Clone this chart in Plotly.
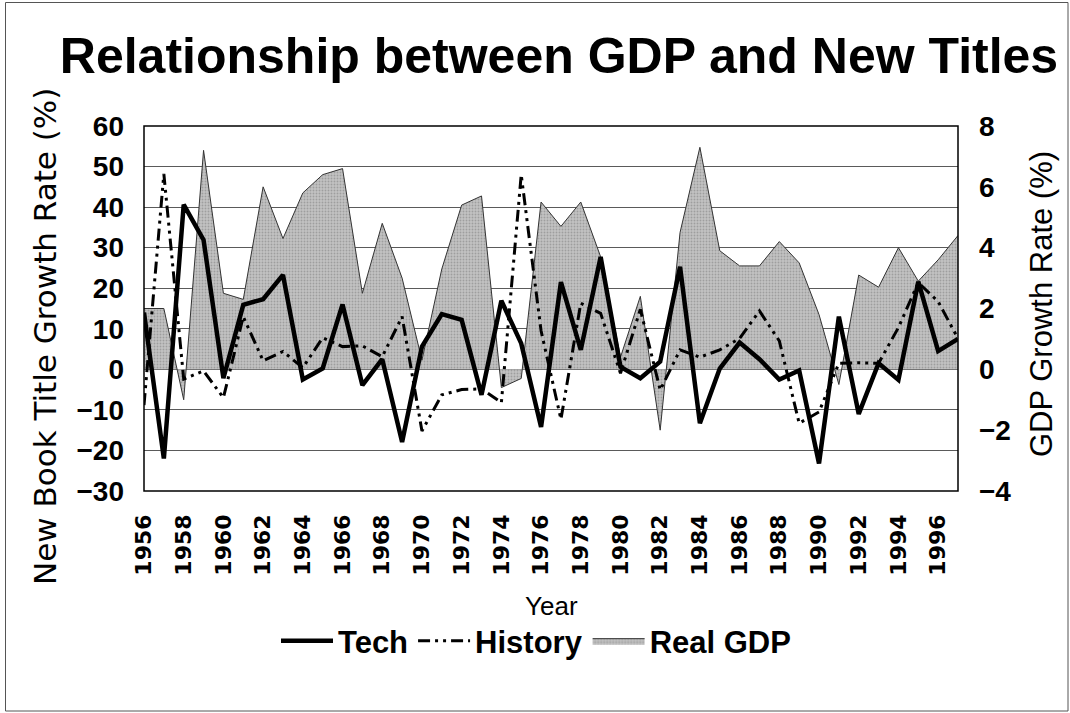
import plotly.graph_objects as go

years = list(range(1956, 1998))
tech = [14.0, -22.0, 40.6, 31.9, -2.2, 15.9, 17.3, 23.3, -2.5, 0.2,
        16.0, -3.9, 2.5, -17.9, 5.6, 13.6, 12.2, -6.3, 16.9, 6.4,
        -14.2, 21.5, 4.8, 27.7, 0.6, -2.2, 1.9, 25.3, -13.3, 0.2,
        6.6, 2.5, -2.5, -0.3, -23.2, 13.0, -11.0, 1.5, -2.6, 21.6,
        4.5, 7.5]
history = [-8.8, 48.2, -2.4, -0.4, -7.0, 13.0, 2.1, 4.4, 0.4, 7.8,
           5.6, 5.8, 3.1, 13.0, -15.2, -6.3, -5.0, -4.8, -8.2, 48.0,
           9.5, -12.3, 16.3, 13.8, -1.0, 14.8, -5.1, 4.8, 3.0, 4.8,
           7.6, 14.4, 7.0, -13.3, -10.5, 1.5, 1.6, 1.5, 10.3, 21.4,
           16.7, 7.6]
gdp = [2.0, 2.0, -1.0, 7.2, 2.5, 2.3, 6.0, 4.3, 5.8, 6.4,
       6.6, 2.5, 4.8, 3.0, 0.3, 3.3, 5.4, 5.7, -0.6, -0.3,
       5.5, 4.7, 5.5, 3.7, 0.4, 2.4, -2.0, 4.5, 7.3, 3.9,
       3.4, 3.4, 4.2, 3.5, 1.8, -0.5, 3.1, 2.7, 4.0, 2.9,
       3.6, 4.4]
tick_years = list(range(1956, 1997, 2))
tick_labels = [str(y) for y in tick_years]
left_ticks = list(range(-30, 61, 10))
right_ticks = list(range(-4, 9, 2))

W, H = 1070, 713
ML, MR, MT, MB = 144, 112, 126, 222
PW = W - ML - MR
PH = H - MT - MB


def px(x):
    return (x - ML) / PW


def py(y):
    return (H - MB - y) / PH


fig = go.Figure()
fig.add_trace(go.Scatter(
    x=years, y=gdp, name="Real GDP", yaxis="y", mode="lines", fill="tozeroy",
    line=dict(color="#333333", width=1),
    fillcolor="#b8b8b8",
    fillpattern=dict(shape=".", size=3, solidity=0.3,
                     fgcolor="#7a7a7a", bgcolor="#c2c2c2"),
    legendrank=3))
fig.add_trace(go.Scatter(
    x=years, y=history, name="History", yaxis="y2", mode="lines",
    line=dict(color="black", width=3, dash="12px,5px,3px,5px,3px,5px"),
    legendrank=2))
fig.add_trace(go.Scatter(
    x=years, y=tech, name="Tech", yaxis="y2", mode="lines",
    line=dict(color="black", width=4.5),
    legendrank=1))

fig.update_layout(
    width=W, height=H,
    margin=dict(l=ML, r=MR, t=MT, b=MB, pad=0),
    paper_bgcolor="white", plot_bgcolor="white",
    font=dict(family="Liberation Sans, Arial, sans-serif", color="black"),
    title=dict(text="<b>Relationship between GDP and New Titles</b>",
               font=dict(family="Liberation Sans, Arial", size=50, color="black"),
               x=559 / W, xanchor="center", xref="container",
               y=1 - 55 / H, yanchor="middle", yref="container"),
    xaxis=dict(range=[1956, 1997], tickmode="array", tickvals=tick_years,
               ticktext=tick_labels, tickangle=-90, ticks="",
               ticklabelstandoff=18, showgrid=False, zeroline=False,
               tickfont=dict(family="DejaVu Sans", size=22, weight="bold")),
    yaxis=dict(range=[-4, 8], side="right", tickmode="array",
               tickvals=right_ticks, ticks="", ticklabelstandoff=20,
               showgrid=False, zeroline=False,
               tickfont=dict(family="Liberation Sans", size=28, weight="bold")),
    yaxis2=dict(range=[-30, 60], side="left", overlaying="y", tickmode="array",
                tickvals=left_ticks, ticks="", ticklabelstandoff=19,
                showgrid=True, gridcolor="#5a5a5a", gridwidth=1, zeroline=False,
                tickfont=dict(family="Liberation Sans", size=28, weight="bold")),
    legend=dict(orientation="h", x=px(536), xanchor="center",
                y=py(641), yanchor="middle",
                font=dict(family="Liberation Sans", size=31, weight="bold"),
                itemwidth=52, bgcolor="rgba(0,0,0,0)"),
    shapes=[
        dict(type="rect", xref="paper", yref="paper", x0=0, x1=1, y0=0, y1=1,
             line=dict(color="black", width=1.5), layer="above"),
        dict(type="rect", xref="paper", yref="paper",
             x0=px(5.5), x1=px(1068), y0=py(711), y1=py(2.5),
             line=dict(color="#555555", width=1), layer="below"),
    ],
    annotations=[
        dict(text="New Book Title Growth Rate (%)", xref="paper", yref="paper",
             x=px(45), y=py(337), xanchor="center", yanchor="middle",
             textangle=-90, showarrow=False,
             font=dict(family="DejaVu Sans", size=31)),
        dict(text="GDP Growth Rate (%)", xref="paper", yref="paper",
             x=px(1041), y=py(304), xanchor="center", yanchor="middle",
             textangle=-90, showarrow=False,
             font=dict(family="Liberation Sans", size=31)),
        dict(text="Year", xref="paper", yref="paper",
             x=px(551), y=py(606), xanchor="center", yanchor="middle",
             showarrow=False, font=dict(family="Liberation Sans", size=26)),
    ],
)

fig.write_html("out.html", config={"displayModeBar": False},
               post_script="document.body.style.margin='0';")
